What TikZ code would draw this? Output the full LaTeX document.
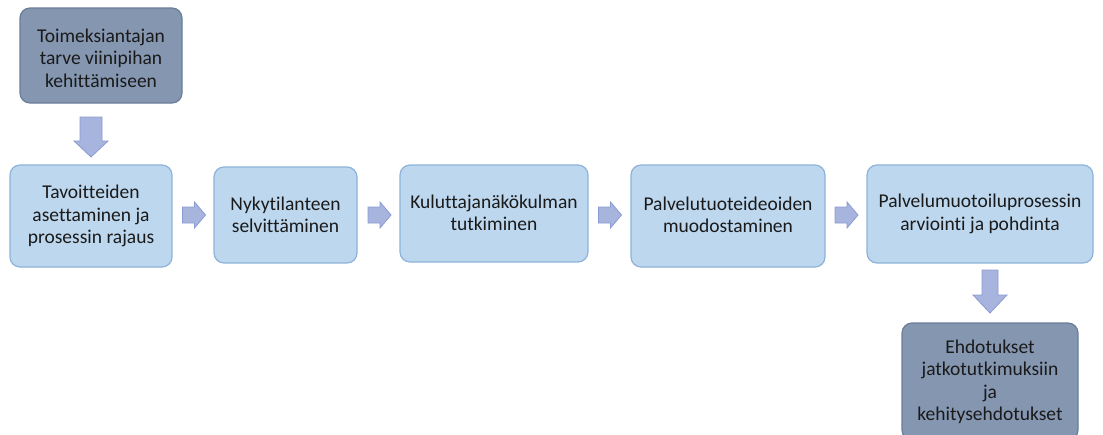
\documentclass[tikz,border=0pt]{standalone}
\usepackage{fontspec}
\setmainfont{Carlito}[RawFeature={-liga;-clig;-calt;-dlig}]
\usetikzlibrary{calc}
\definecolor{lightfill}{HTML}{BDD7EE}
\definecolor{lightline}{HTML}{8EB3DA}
\definecolor{darkfill}{HTML}{8496B0}
\definecolor{darkline}{HTML}{6A7D99}
\definecolor{arrfill}{HTML}{A6B4DE}
\definecolor{arrline}{HTML}{8A9BD0}
\definecolor{txt}{HTML}{1A1A1A}
\begin{document}
\begin{tikzpicture}[x=1pt,y=-1pt,
  box/.style={rounded corners=10pt,line width=1.2pt},
  lightbox/.style={box,fill=lightfill,draw=lightline},
  darkbox/.style={box,fill=darkfill,draw=darkline},
  lbl/.style={align=center,text=txt,font=\fontsize{19.5}{22.5}\selectfont},
  blockarrow/.style={fill=arrfill,draw=arrline,line width=0.8pt,line join=miter}]
\useasboundingbox (0,0) rectangle (1103,434);
% boxes
\draw[darkbox] (20,8) rectangle (182,103);
\node[lbl] (top) at (101,58) {Toimeksiantajan\\tarve viinipihan\\kehittämiseen};
\draw[lightbox] (10,165) rectangle (172,267);
\node[lbl] (b1) at (91,216) {Tavoitteiden\\asettaminen ja\\prosessin rajaus};
\draw[lightbox] (214,167) rectangle (357,263);
\node[lbl] (b2) at (285.5,215) {Nykytilanteen\\selvittäminen};
\draw[lightbox] (400,165) rectangle (588,262);
\node[lbl] (b3) at (494,213) {Kuluttajanäkökulman\\tutkiminen};
\draw[lightbox] (631,165) rectangle (825,267);
\node[lbl] (b4) at (728,215) {Palvelutuoteideoiden\\muodostaminen};
\draw[lightbox] (867,165) rectangle (1093,263);
\node[lbl] (b5) at (980,214) {Palvelumuotoiluprosessin\\arviointi ja pohdinta};
\draw[darkbox] (902,323) rectangle (1078,440);
\node[lbl] (b6) at (990,382) {Ehdotukset\\jatkotutkimuksiin\\ja\\kehitysehdotukset};
% down arrows
\coordinate (d1) at (91,117);
\draw[blockarrow] ($(d1)+(-11,0)$) -- ($(d1)+(11,0)$) -- ($(d1)+(11,24)$) -- ($(d1)+(17,24)$) -- ($(d1)+(0,40)$) -- ($(d1)+(-17,24)$) -- ($(d1)+(-11,24)$) -- cycle;
\coordinate (d2) at (990,270);
\draw[blockarrow] ($(d2)+(-8,0)$) -- ($(d2)+(8,0)$) -- ($(d2)+(8,25)$) -- ($(d2)+(17,25)$) -- ($(d2)+(0,43)$) -- ($(d2)+(-17,25)$) -- ($(d2)+(-8,25)$) -- cycle;
% right arrows
\foreach \n/\x in {r1/182.5,r2/368,r3/598.5,r4/835}{
  \coordinate (\n) at (\x,215);
  \draw[blockarrow] ($(\n)+(0,-8)$) -- ($(\n)+(12,-8)$) -- ($(\n)+(12,-13)$) -- ($(\n)+(23,0)$) -- ($(\n)+(12,13)$) -- ($(\n)+(12,8)$) -- ($(\n)+(0,8)$) -- cycle;
}
\end{tikzpicture}
\end{document}
